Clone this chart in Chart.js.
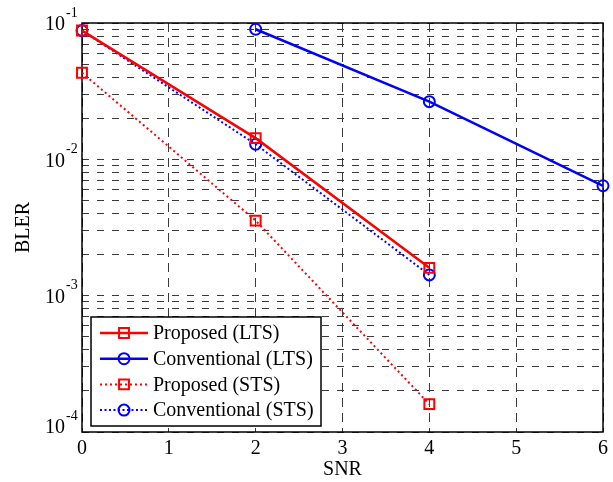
<!DOCTYPE html>
<html>
<head>
<meta charset="utf-8">
<script src="https://cdn.jsdelivr.net/npm/chart.js@4"></script>
<style>
    html, body { margin: 0; padding: 0; background: #ffffff; }
    #wrap { width: 613px; height: 482px; position: relative; }
</style>
</head>
<body>
<div id="wrap"><canvas id="blerChart"></canvas></div>
<script>
// Dados
const snrProposedLTS = [0, 2, 4];
const blerProposedLTS = [0.088, 0.0143, 0.00160];

const snrConventionalLTS = [2, 4, 6];
const blerConventionalLTS = [0.090, 0.0265, 0.0064];

const snrProposedSTS = [0, 2, 4];
const blerProposedSTS = [0.0432, 0.00355, 0.000160];

const snrConventionalSTS = [0, 2, 4];
const blerConventionalSTS = [0.088, 0.0129, 0.00142];

const seriesLabels = ['Proposed (LTS)', 'Conventional (LTS)', 'Proposed (STS)', 'Conventional (STS)'];
const xTickValues = [0, 1, 2, 3, 4, 5, 6];
const yDecades = [-4, -3, -2, -1];
const yMinorSteps = [2, 3, 4, 5, 6, 7, 8, 9];

const FONT = "'Liberation Serif', 'Times New Roman', serif";
const RED = '#ff0000';
const BLUE = '#0000ff';

function toPoints(xs, ys) {
    return xs.map((x, i) => ({ x: x, y: ys[i] }));
}

// grade do eixo log: décadas + subdivisões 2..9
const yGridValues = [];
yDecades.forEach((d, i) => {
    yGridValues.push(Math.pow(10, d));
    if (i < yDecades.length - 1) {
        yMinorSteps.forEach(m => yGridValues.push(m * Math.pow(10, d)));
    }
});

function makeDataset(label, xs, ys, color, dash, style, radius) {
    return {
        label: label,
        data: toPoints(xs, ys),
        borderColor: color,
        borderWidth: dash.length ? 2 : 2.5,
        borderDash: dash,
        pointStyle: style,
        pointRadius: radius,
        pointHoverRadius: radius,
        pointBorderWidth: 2,
        pointBorderColor: color,
        pointBackgroundColor: 'rgba(0,0,0,0)',
        fill: false,
        tension: 0,
        clip: false
    };
}

const datasets = [
    makeDataset(seriesLabels[0], snrProposedLTS, blerProposedLTS, RED, [], 'rect', 7),
    makeDataset(seriesLabels[1], snrConventionalLTS, blerConventionalLTS, BLUE, [], 'circle', 5.5),
    makeDataset(seriesLabels[2], snrProposedSTS, blerProposedSTS, RED, [2, 3], 'rect', 7),
    makeDataset(seriesLabels[3], snrConventionalSTS, blerConventionalSTS, BLUE, [2, 2.5], 'circle', 5.5)
];

const gridOpts = { color: '#3a3a3a', lineWidth: 1, drawTicks: false };

// caixa dos eixos + rótulos (com expoente) + legenda interna
const axesPlugin = {
    id: 'axesPlugin',
    beforeDatasetsDraw(chart) {
        const { ctx, chartArea: a } = chart;
        ctx.save();
        ctx.setLineDash([]);
        ctx.strokeStyle = '#000000';
        ctx.lineWidth = 1.5;
        ctx.strokeRect(a.left, a.top, a.right - a.left, a.bottom - a.top);
        ctx.restore();
    },
    afterDraw(chart) {
        const { ctx, chartArea: a, scales } = chart;
        const xs = scales.x, ys = scales.y;
        ctx.save();
        ctx.fillStyle = '#000000';
        ctx.setLineDash([]);

        // x ticks
        ctx.font = '20px ' + FONT;
        ctx.textAlign = 'center';
        ctx.textBaseline = 'middle';
        xTickValues.forEach(v => {
            ctx.fillText(String(v), xs.getPixelForValue(v), a.bottom + 17);
        });

        // y ticks 10^d
        yDecades.forEach((d, i) => {
            const py = ys.getPixelForValue(Math.pow(10, d)) + (i === 0 ? -4 : 2);
            ctx.font = '20px ' + FONT;
            ctx.textAlign = 'right';
            ctx.textBaseline = 'middle';
            ctx.fillText('10', a.left - 17, py);
            ctx.font = '14px ' + FONT;
            ctx.textAlign = 'left';
            ctx.fillText(String(d), a.left - 16, py - 12);
        });

        // títulos
        ctx.font = '20px ' + FONT;
        ctx.textAlign = 'center';
        ctx.textBaseline = 'middle';
        ctx.fillText('SNR', (a.left + a.right) / 2, a.bottom + 38);
        ctx.save();
        ctx.translate(24, (a.top + a.bottom) / 2);
        ctx.rotate(-Math.PI / 2);
        ctx.fillText('BLER', 0, 0);
        ctx.restore();

        // legenda
        const box = { x: 91, y: 317, w: 230, h: 109 };
        ctx.fillStyle = '#ffffff';
        ctx.fillRect(box.x, box.y, box.w, box.h);
        ctx.strokeStyle = '#000000';
        ctx.lineWidth = 1.5;
        ctx.strokeRect(box.x, box.y, box.w, box.h);

        chart.data.datasets.forEach((ds, i) => {
            const rowY = box.y + 16 + i * 25.7;
            ctx.save();
            ctx.strokeStyle = ds.borderColor;
            ctx.lineWidth = ds.borderWidth;
            ctx.setLineDash(ds.borderDash);
            ctx.beginPath();
            ctx.moveTo(100, rowY);
            ctx.lineTo(148, rowY);
            ctx.stroke();
            ctx.setLineDash([]);
            ctx.lineWidth = ds.pointBorderWidth;
            ctx.fillStyle = 'rgba(0,0,0,0)';
            Chart.helpers.drawPoint(ctx, {
                pointStyle: ds.pointStyle,
                radius: ds.pointRadius,
                rotation: 0,
                borderWidth: ds.pointBorderWidth
            }, 124, rowY);
            ctx.restore();

            ctx.fillStyle = '#000000';
            ctx.font = '20px ' + FONT;
            ctx.textAlign = 'left';
            ctx.textBaseline = 'middle';
            ctx.fillText(ds.label, 153, rowY + 1);
        });
        ctx.restore();
    }
};

const blerChart = new Chart(document.getElementById('blerChart').getContext('2d'), {
    type: 'line',
    data: { datasets: datasets },
    options: {
        responsive: true,
        maintainAspectRatio: false,
        animation: false,
        layout: { padding: { left: 82, top: 23, right: 10, bottom: 50 } },
        plugins: { legend: { display: false }, tooltip: { enabled: false } },
        scales: {
            x: {
                type: 'linear',
                min: 0,
                max: 6,
                ticks: { display: false, stepSize: 1 },
                afterBuildTicks: (s) => { s.ticks = xTickValues.map(v => ({ value: v })); },
                grid: gridOpts,
                border: { display: false, dash: [9, 6] }
            },
            y: {
                type: 'logarithmic',
                min: 1e-4,
                max: 1e-1,
                ticks: { display: false },
                afterBuildTicks: (s) => { s.ticks = yGridValues.map(v => ({ value: v })); },
                grid: gridOpts,
                border: { display: false, dash: [7, 8] }
            }
        }
    },
    plugins: [axesPlugin]
});
</script>
</body>
</html>
